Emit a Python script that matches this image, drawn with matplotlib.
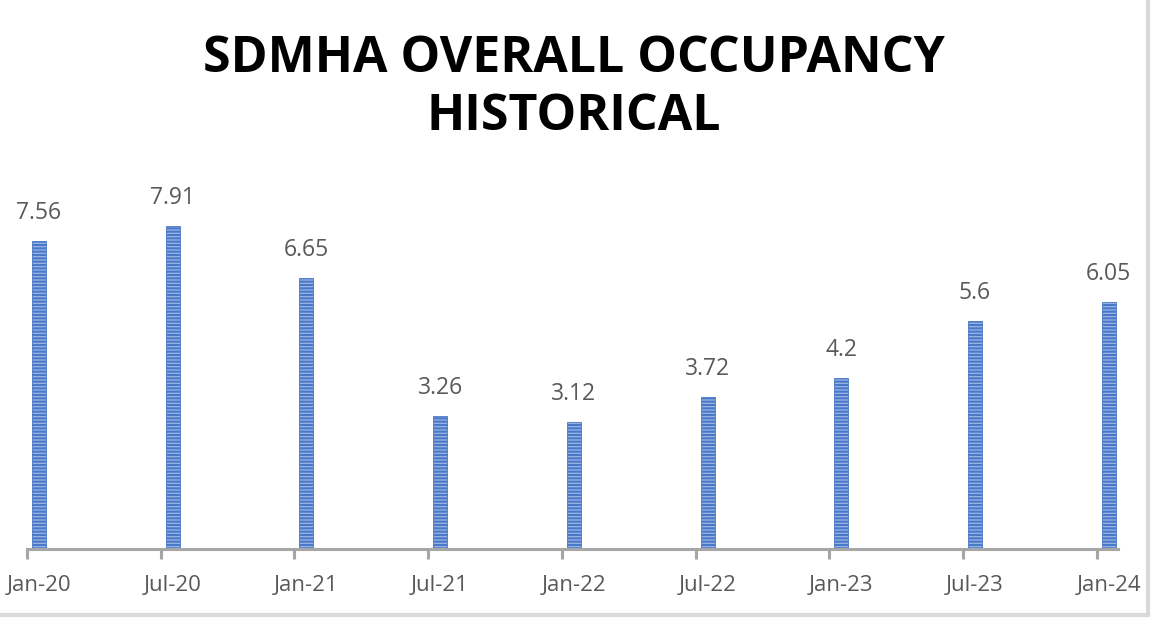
import matplotlib
matplotlib.use("Agg")
import matplotlib.pyplot as plt
import numpy as np
from matplotlib.lines import Line2D

categories = ["Jan-20", "Jul-20", "Jan-21", "Jul-21", "Jan-22", "Jul-22", "Jan-23", "Jul-23", "Jan-24"]
values = [7.56, 7.91, 6.65, 3.26, 3.12, 3.72, 4.2, 5.6, 6.05]
value_labels = ["7.56", "7.91", "6.65", "3.26", "3.12", "3.72", "4.2", "5.6", "6.05"]
title = "SDMHA OVERALL OCCUPANCY\nHISTORICAL"

plt.rcParams['hatch.linewidth'] = 1.5
plt.rcParams['hatch.color'] = '#4472C4'

W, H = 1152, 618
fig = plt.figure(figsize=(W / 100, H / 100), dpi=100)
ax = fig.add_axes([27 / W, (H - 549) / H, 1091 / W, 367 / H])

x = np.arange(len(categories))
off = 0.09
ax.bar(x + off, values, width=0.105, color='#9cb4e2', edgecolor='#4a78c8',
       hatch='-----', linewidth=0.6, zorder=2)

for xi, v, lab in zip(x, values, value_labels):
    ax.annotate(lab, (xi + off, v), xytext=(0, 16), textcoords='offset pixels',
                ha='center', va='bottom', fontsize=16.5, color='#595959', family='Open Sans')

ax.set_xlim(0, 8.16)
ax.set_ylim(0, 9)
ax.set_yticks([])
for s in ['top', 'right', 'left']:
    ax.spines[s].set_visible(False)
ax.spines['bottom'].set_color('#A6A6A6')
ax.spines['bottom'].set_linewidth(2.2)
ax.spines['bottom'].set_zorder(3)

ax.set_xticks(x + off)
ax.set_xticklabels(categories, fontsize=16, color='#595959', family='Open Sans')
ax.tick_params(axis='x', which='major', length=0, pad=19)
ax.set_xticks(x, minor=True)
ax.tick_params(axis='x', which='minor', length=7, width=2.2, color='#A6A6A6')

fig.text(574 / W, 1 - 88 / H, title, ha='center', va='center', multialignment='center',
         fontsize=36, fontweight='bold', family='Open Sans', color='black', linespacing=1.22)

fig.add_artist(Line2D([0, 1148 / W], [1 - 615 / H] * 2, color='#D9D9D9', lw=3, transform=fig.transFigure))
fig.add_artist(Line2D([1148 / W] * 2, [1 - 615 / H, 1], color='#D9D9D9', lw=3, transform=fig.transFigure))

fig.savefig("out.png", dpi=100, facecolor='white')
